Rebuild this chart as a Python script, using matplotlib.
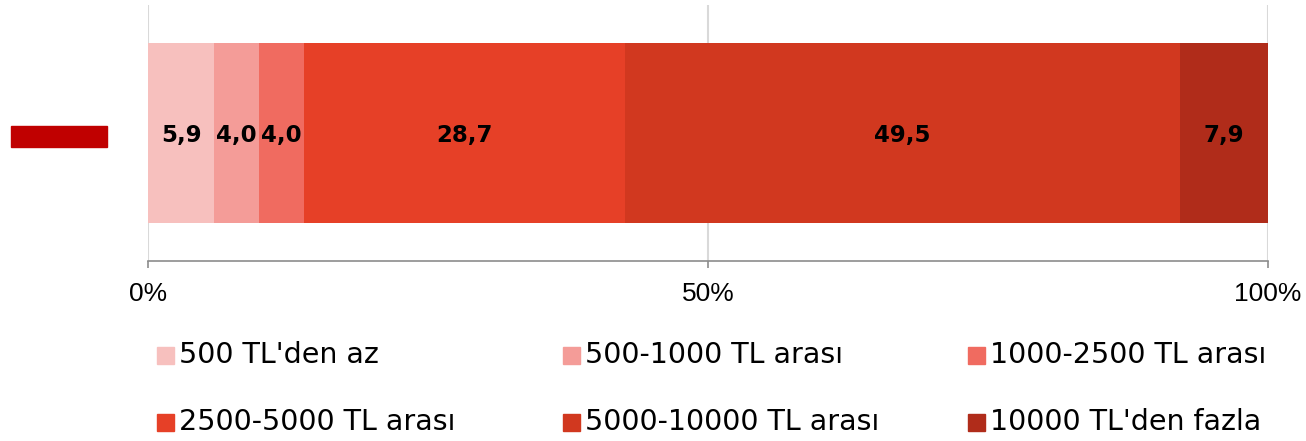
import matplotlib
matplotlib.use("Agg")
import matplotlib.pyplot as plt
from matplotlib.patches import Rectangle

categories = ["500 TL'den az", "500-1000 TL arası", "1000-2500 TL arası",
              "2500-5000 TL arası", "5000-10000 TL arası", "10000 TL'den fazla"]
values = [5.9, 4.0, 4.0, 28.7, 49.5, 7.9]
value_labels = ["5,9", "4,0", "4,0", "28,7", "49,5", "7,9"]
colors = ["#F7C0BE", "#F49C98", "#F06B60", "#E64027", "#D1381F", "#B02C1A"]
xticks = [0, 50, 100]
xtick_labels = ["0%", "50%", "100%"]

W, H = 1306, 441
fig = plt.figure(figsize=(W / 100, H / 100), dpi=100)
ax = fig.add_axes([148 / W, 1 - 261 / H, (1268 - 148) / W, (261 - 5) / H])

left = 0
for v, c, lab in zip(values, colors, value_labels):
    ax.barh(0, v, left=left, height=0.703, color=c, edgecolor="none", zorder=3)
    ax.text(left + v / 2, -0.01, lab, ha="center", va="center", fontsize=16.5,
            fontweight="heavy", family="DejaVu Sans", color="black", zorder=4)
    left += v

ax.set_xlim(0, 100)
ax.set_ylim(-0.5, 0.5)
ax.set_yticks([])
ax.set_xticks(xticks)
ax.set_xticklabels(xtick_labels, family="Liberation Sans", fontsize=19)
ax.tick_params(axis="x", direction="out", length=5, width=1.2, color="#8C8C8C", pad=10)
for x in xticks:
    ax.axvline(x, color="#D9D9D9", lw=1.5, zorder=1)
for s in ["top", "right", "left"]:
    ax.spines[s].set_visible(False)
ax.spines["bottom"].set_color("#8C8C8C")
ax.spines["bottom"].set_linewidth(1.2)

# red category marker on the left
fig.patches.append(Rectangle((11 / W, 1 - 147 / H), 96 / W, 21 / H,
                             transform=fig.transFigure, color="#C00000"))

# legend (manual, 3 columns x 2 rows)
col_x = [157, 563, 968]
row_y = [355, 422]
for i, (cat, c) in enumerate(zip(categories, colors)):
    cx = col_x[i % 3]
    cy = row_y[i // 3]
    fig.patches.append(Rectangle((cx / W, 1 - (cy + 8.5) / H), 17 / W, 17 / H,
                                 transform=fig.transFigure, color=c))
    fig.text((cx + 22) / W, 1 - cy / H, cat, ha="left", va="center",
             fontsize=20.5, family="DejaVu Sans", color="black")

fig.savefig("out.png", dpi=100)
